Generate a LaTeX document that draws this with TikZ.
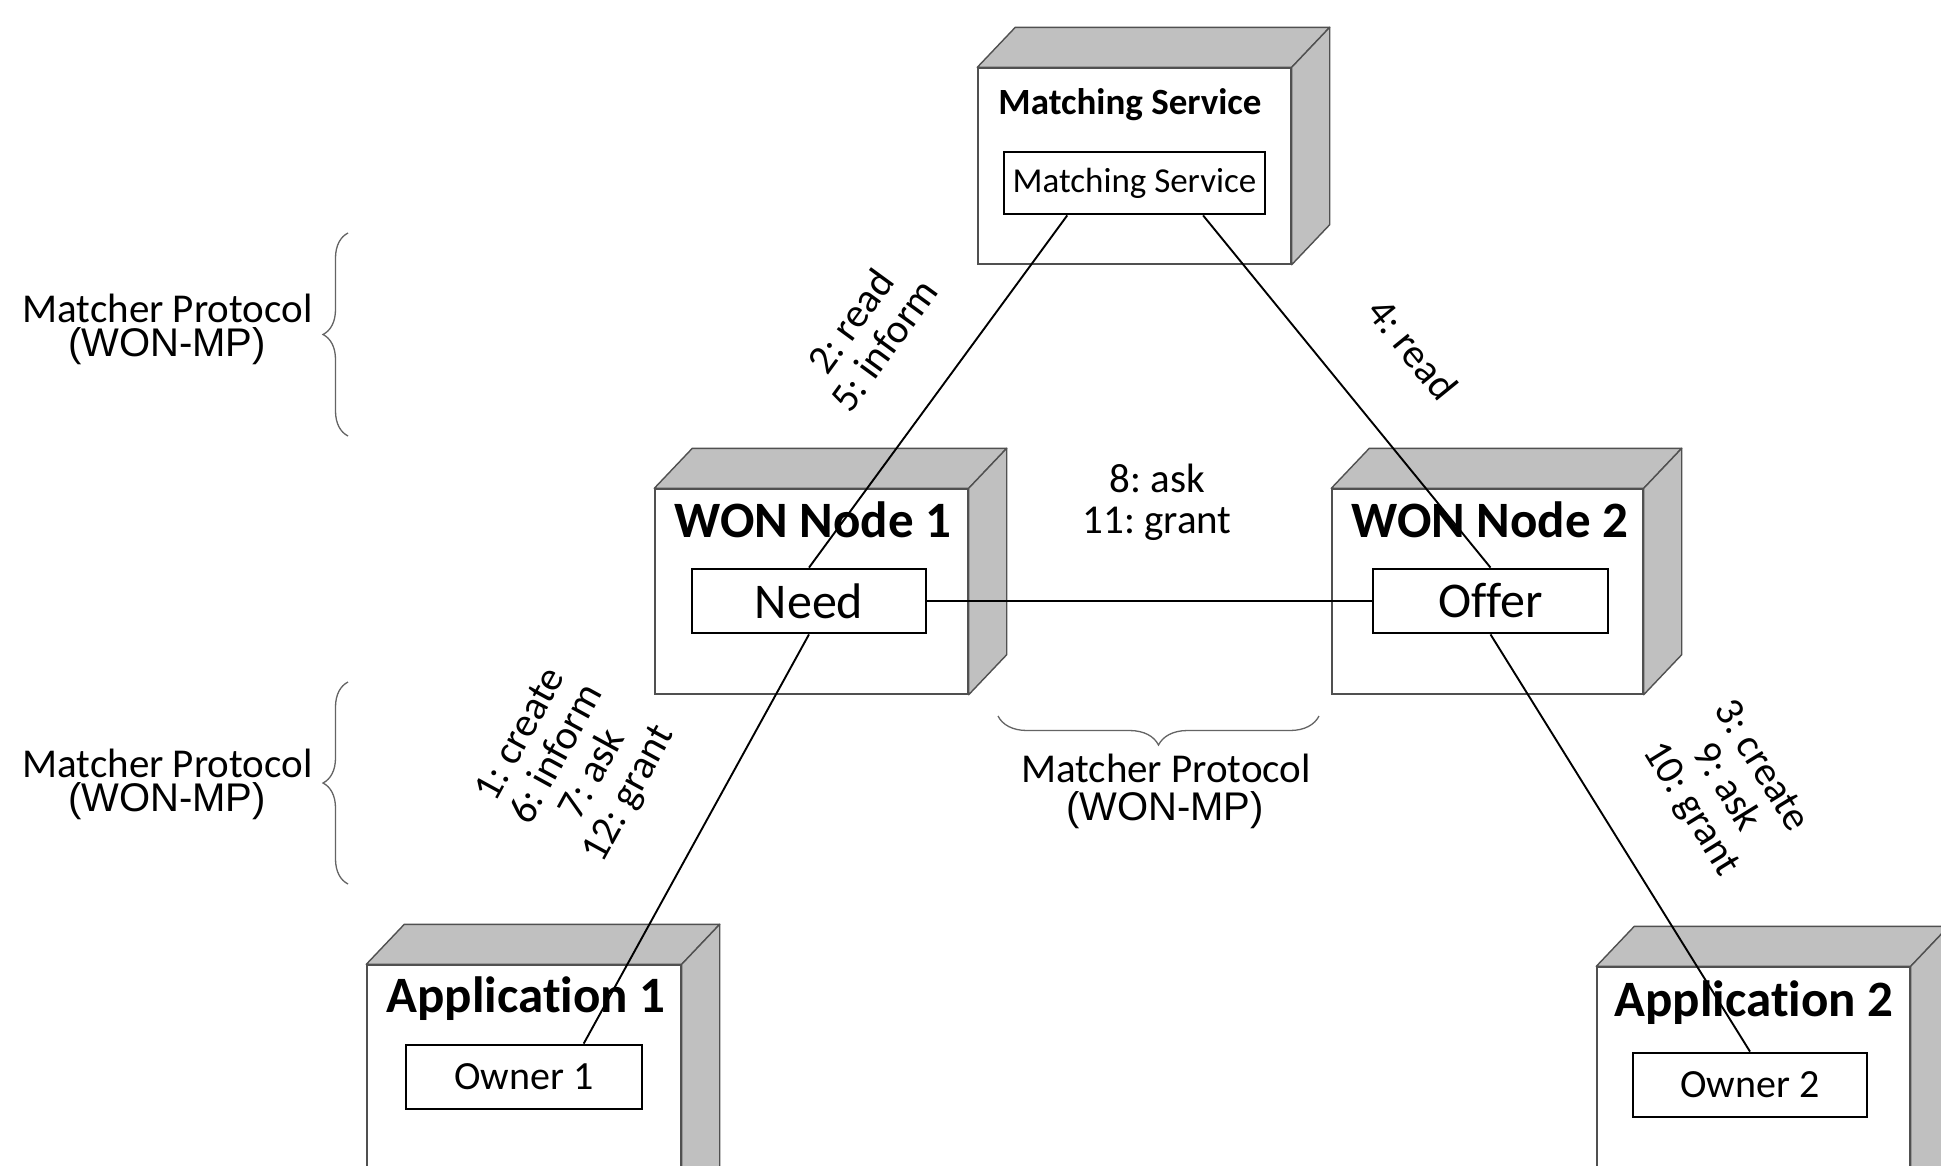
\documentclass[tikz,border=0pt]{standalone}
\usepackage{fontspec}
\setmainfont{Carlito}[Ligatures=CommonOff]
\newfontfamily\arialfont{Liberation Sans}
\usetikzlibrary{decorations.pathreplacing,calc}

\definecolor{sidegray}{RGB}{192,192,192}
\definecolor{edgegray}{RGB}{80,80,80}
\definecolor{bracegray}{RGB}{100,100,100}

\frenchspacing
\newcommand\fsz[1]{\fontsize{#1}{#1}\selectfont}
% top and right faces of a deployment-node cube, built on its front face
\newcommand\cubefaces[1]{%
  \draw[face] (#1.north west) -- ++(38,-40) -- ($(#1.north east)+(38,-40)$) -- (#1.north east) -- cycle;
  \draw[face] (#1.north east) -- ++(38,-40) -- ($(#1.south east)+(38,-40)$) -- (#1.south east) -- cycle;
}

\begin{document}
\begin{tikzpicture}[x=1pt,y=-1pt,
  face/.style={draw=edgegray, fill=sidegray, line width=1.4pt, line join=round},
  front/.style={draw=edgegray, fill=white, line width=1.4pt, rectangle, inner sep=0pt},
  part/.style={draw=black, fill=white, line width=2.8pt, rectangle, inner sep=0pt, font=\fsz{50}},
  title/.style={font=\bfseries\fsz{51}, anchor=base, inner sep=0pt},
  msg/.style={font=\fsz{41}, align=center, inner sep=0pt},
  proto/.style={font=\fsz{41}, anchor=base, inner sep=0pt},
  protoabbr/.style={font=\arialfont\fsz{40}, anchor=base, inner sep=0pt},
  link/.style={draw=black, line width=1.9pt},
  protobrace/.style={decorate, decoration={brace, amplitude=#1}, draw=bracegray, line width=1.3pt}]

\clip (0,0) rectangle (1941,1165);
\fill[white] (0,0) rectangle (1941,1165);

% Matching service
\node[front, minimum width=313, minimum height=196] (msbox) at (1134.5,166) {};
\cubefaces{msbox}
\node[title, font=\bfseries\fsz{37}] (mstitle) at (1130,114) {Matching Service};
\node[part, font=\fsz{35}, minimum width=261, minimum height=62] (ms) at (1134.5,183) {Matching Service};

% WON node 1
\node[front, minimum width=313, minimum height=205] (n1box) at (811.5,591.5) {};
\cubefaces{n1box}
\node[title] (n1title) at (813,537) {WON Node 1};
\node[part, minimum width=234, minimum height=64] (need) at (809,601) {Need};

% WON node 2
\node[front, minimum width=311, minimum height=205] (n2box) at (1487.5,591.5) {};
\cubefaces{n2box}
\node[title] (n2title) at (1490,537) {WON Node 2};
\node[part, minimum width=235, minimum height=64] (offer) at (1490.5,601) {Offer};

% Application 1
\node[front, minimum width=314, minimum height=260] (a1box) at (524,1095) {};
\cubefaces{a1box}
\node[title] (a1title) at (526,1012) {Application 1};
\node[part, font=\fsz{40}, minimum width=236, minimum height=64] (own1) at (524,1077) {Owner 1};

% Application 2
\node[front, minimum width=313, minimum height=260] (a2box) at (1753.5,1097) {};
\cubefaces{a2box}
\node[title] (a2title) at (1754,1016) {Application 2};
\node[part, font=\fsz{40}, minimum width=234, minimum height=64] (own2) at (1750,1085) {Owner 2};

% connectors
\draw[link] ($(ms.south west)!0.245!(ms.south east)$) -- (need.north);
\draw[link] ($(ms.south west)!0.76!(ms.south east)$) -- (offer.north);
\draw[link] (need.east) -- (offer.west);
\draw[link] (need.south) -- ($(own1.north west)!0.75!(own1.north east)$);
\draw[link] (offer.south) -- (own2.north);

% message labels
\node[msg, rotate=53.9] (l25) at (867,333) {2: read\\5: inform};
\node[msg, rotate=-50.9] (l4) at (1413,349) {4: read};
\node[msg] (l811) at (1157,502) {8: ask\\11: grant};
\node[msg, rotate=61.3] (l1) at (576,765) {1: create\\6: inform\\7: ask\\12: grant};
\node[msg, rotate=-58.3] (l3) at (1725,788) {3: create\\9: ask\\10: grant};

% protocol braces
\draw[protobrace=25] (348,436) -- (348,233);
\draw[protobrace=25] (348,884) -- (348,682);
\draw[protobrace=29] (1319,716) -- (998,716);

\node[proto] (mp1) at (167.5,322) {Matcher Protocol};
\node[protoabbr] (mp1b) at (167,356) {(WON-MP)};
\node[proto] (mp2) at (167.5,777) {Matcher Protocol};
\node[protoabbr] (mp2b) at (167,811) {(WON-MP)};
\node[proto] (mp3) at (1166,782) {Matcher Protocol};
\node[protoabbr] (mp3b) at (1165,820) {(WON-MP)};
\end{tikzpicture}
\end{document}
